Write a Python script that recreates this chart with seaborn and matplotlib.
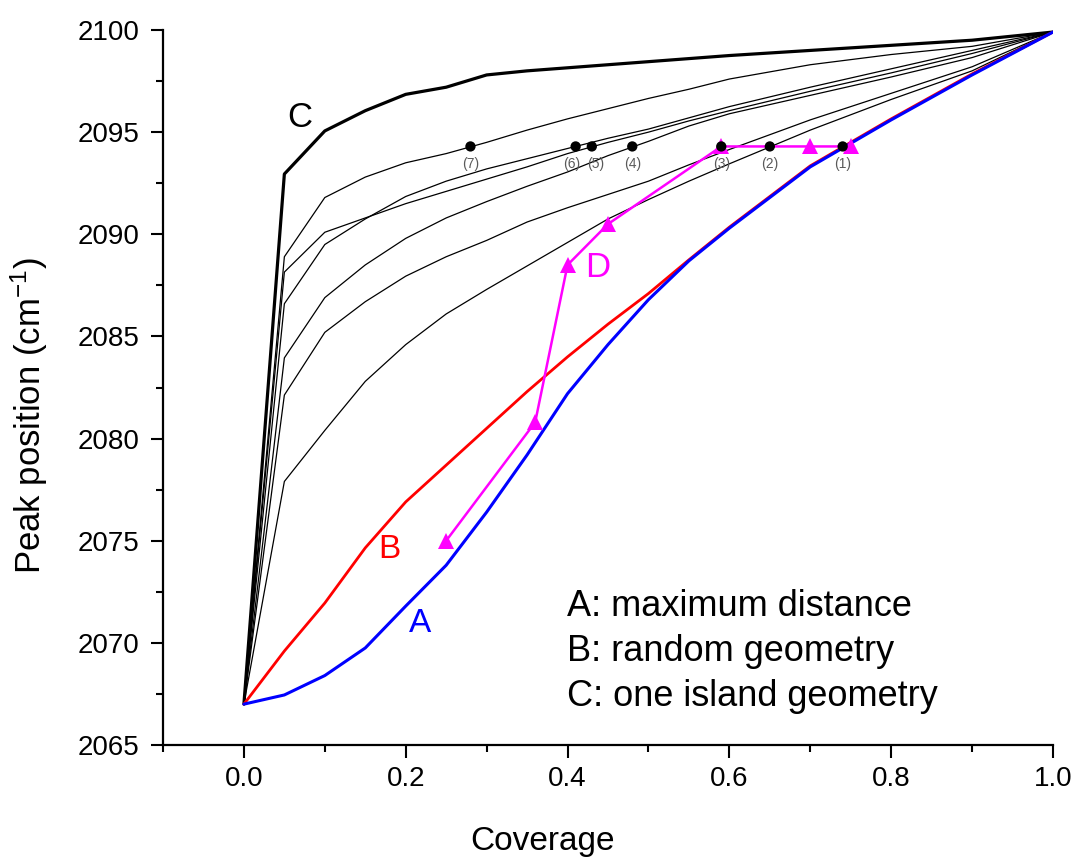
import numpy as np
import pandas as pd
import matplotlib
matplotlib.use("Agg")
import matplotlib.pyplot as plt
from matplotlib.ticker import MultipleLocator
import seaborn as sns

# ---------------- data ----------------
coverage = [0.0, 0.05, 0.1, 0.15, 0.2, 0.25, 0.3, 0.35, 0.4, 0.45, 0.5, 0.55, 0.6, 0.7, 0.8, 0.9, 1.0]

curve_A = [2067.0, 2067.45, 2068.4, 2069.75, 2071.8, 2073.8, 2076.4, 2079.2, 2082.2, 2084.6,
           2086.8, 2088.7, 2090.3, 2093.3, 2095.6, 2097.8, 2099.9]
curve_B = [2067.0, 2069.6, 2071.95, 2074.65, 2076.9, 2078.7, 2080.5, 2082.3, 2084.0, 2085.6,
           2087.1, 2088.75, 2090.35, 2093.35, 2095.65, 2097.85, 2099.9]
curve_C = [2067.0, 2092.95, 2095.06, 2096.05, 2096.85, 2097.2, 2097.8, 2098.0, 2098.15, 2098.3,
           2098.45, 2098.6, 2098.75, 2099.0, 2099.25, 2099.5, 2099.9]

thin_1 = [2067.0, 2088.9, 2091.8, 2092.8, 2093.5, 2093.95, 2094.5, 2095.1, 2095.65, 2096.15,
          2096.65, 2097.1, 2097.6, 2098.3, 2098.8, 2099.2, 2099.9]
thin_2 = [2067.0, 2086.6, 2089.5, 2090.75, 2091.85, 2092.6, 2093.2, 2093.7, 2094.2, 2094.7,
          2095.15, 2095.7, 2096.25, 2097.2, 2098.1, 2099.0, 2099.9]
thin_3 = [2067.0, 2088.15, 2090.1, 2090.8, 2091.5, 2092.1, 2092.7, 2093.3, 2093.95, 2094.5,
          2095.0, 2095.55, 2096.05, 2097.0, 2097.9, 2098.85, 2099.9]
thin_4 = [2067.0, 2083.95, 2086.9, 2088.5, 2089.8, 2090.8, 2091.6, 2092.35, 2093.05, 2093.85,
          2094.55, 2095.3, 2095.9, 2096.8, 2097.7, 2098.65, 2099.9]
thin_5 = [2067.0, 2082.13, 2085.2, 2086.7, 2087.95, 2088.9, 2089.7, 2090.6, 2091.3, 2091.95,
          2092.6, 2093.4, 2094.15, 2095.6, 2096.9, 2098.2, 2099.9]
thin_6 = [2067.0, 2077.9, 2080.4, 2082.8, 2084.6, 2086.1, 2087.3, 2088.45, 2089.6, 2090.75,
          2091.7, 2092.6, 2093.45, 2095.1, 2096.6, 2098.0, 2099.9]
thin_curves = [thin_1, thin_2, thin_3, thin_4, thin_5, thin_6]

D_x = [0.25, 0.36, 0.40, 0.45, 0.59, 0.70, 0.75]
D_y = [2075.0, 2080.8, 2088.5, 2090.5, 2094.3, 2094.3, 2094.3]

dot_x = [0.74, 0.65, 0.59, 0.48, 0.43, 0.41, 0.28]
dot_y = [2094.3, 2094.3, 2094.3, 2094.3, 2094.3, 2094.3, 2094.3]
dot_labels = ["(1)", "(2)", "(3)", "(4)", "(5)", "(6)", "(7)"]
dot_label_shift = [0, 0, 0, 0, 2.5, -2.5, 0]

legend_lines = ["A: maximum distance", "B: random geometry", "C: one island geometry"]

# ---------------- style ----------------
sns.set_theme(style="ticks")
plt.rcParams["font.family"] = ["Liberation Sans", "DejaVu Sans"]
plt.rcParams["mathtext.fontset"] = "custom"
plt.rcParams["mathtext.rm"] = "Liberation Sans"
plt.rcParams["mathtext.it"] = "Liberation Sans:italic"
plt.rcParams["mathtext.default"] = "regular"

fig = plt.figure(figsize=(10.78, 8.59), dpi=100)
ax = fig.add_axes([163 / 1078, 1 - 745 / 859, (1053 - 163) / 1078, (745 - 30) / 859])

for tc in thin_curves:
    sns.lineplot(x=coverage, y=tc, ax=ax, color="black", linewidth=0.9,
                 estimator=None, sort=False, legend=False)

sns.lineplot(x=coverage, y=curve_C, ax=ax, color="black", linewidth=2.3,
             estimator=None, sort=False, legend=False)
sns.lineplot(x=coverage, y=curve_B, ax=ax, color="#FF0000", linewidth=2.0,
             estimator=None, sort=False, legend=False)
sns.lineplot(x=coverage, y=curve_A, ax=ax, color="#0000FF", linewidth=2.2,
             estimator=None, sort=False, legend=False)

sns.lineplot(x=D_x, y=D_y, ax=ax, color="#FF00FF", linewidth=1.8, marker="^",
             markersize=12, markeredgewidth=0, estimator=None, sort=False, legend=False)

sns.scatterplot(x=dot_x, y=dot_y, ax=ax, color="black", s=55, edgecolor="none",
                legend=False, zorder=5)
for xv, yv, lab, dx in zip(dot_x, dot_y, dot_labels, dot_label_shift):
    ax.annotate(lab, (xv, yv), xytext=(dx, -13), textcoords="offset points",
                ha="center", va="center", fontsize=10, color="#5a5a5a")

# curve letters
ax.text(0.069, 2095.7, "C", color="black", fontsize=25, ha="center", va="center")
ax.text(0.180, 2074.55, "B", color="#FF0000", fontsize=24, ha="center", va="center")
ax.text(0.2175, 2070.97, "A", color="#0000FF", fontsize=24, ha="center", va="center")
ax.text(0.4376, 2088.35, "D", color="#FF00FF", fontsize=25, ha="center", va="center")

for txt, yv in zip(legend_lines, [2071.8, 2069.6, 2067.35]):
    ax.text(0.399, yv, txt, color="black", fontsize=26, ha="left", va="center")

ax.set_xlim(-0.1, 1.0)
ax.set_ylim(2065, 2100)
ax.xaxis.set_major_locator(MultipleLocator(0.2))
ax.xaxis.set_minor_locator(MultipleLocator(0.1))
ax.yaxis.set_major_locator(MultipleLocator(5))
ax.yaxis.set_minor_locator(MultipleLocator(2.5))
ax.xaxis.set_major_formatter(plt.FuncFormatter(lambda v, p: f"{v:.1f}"))
ax.yaxis.set_major_formatter(plt.FuncFormatter(lambda v, p: f"{v:.0f}"))

for side in ["top", "right"]:
    ax.spines[side].set_visible(False)
for side in ["left", "bottom"]:
    ax.spines[side].set_linewidth(1.6)
    ax.spines[side].set_color("black")

ax.tick_params(axis="both", which="major", direction="out", length=9, width=1.5,
               labelsize=20, color="black", labelcolor="black")
ax.tick_params(axis="both", which="minor", direction="out", length=5, width=1.5, color="black")
ax.tick_params(axis="y", which="major", pad=8)
ax.tick_params(axis="x", which="major", pad=6)

ax.set_xlabel("Coverage", fontsize=24, color="black")
ax.set_ylabel("Peak position (cm$^{-1}$)", fontsize=25, color="black")
ax.xaxis.set_label_coords(0.426, -0.113)
ax.yaxis.set_label_coords(-0.127, 0.46)
ax.grid(False)
ax.set_facecolor("white")
fig.patch.set_facecolor("white")

fig.savefig("out.png", dpi=100, facecolor="white")
